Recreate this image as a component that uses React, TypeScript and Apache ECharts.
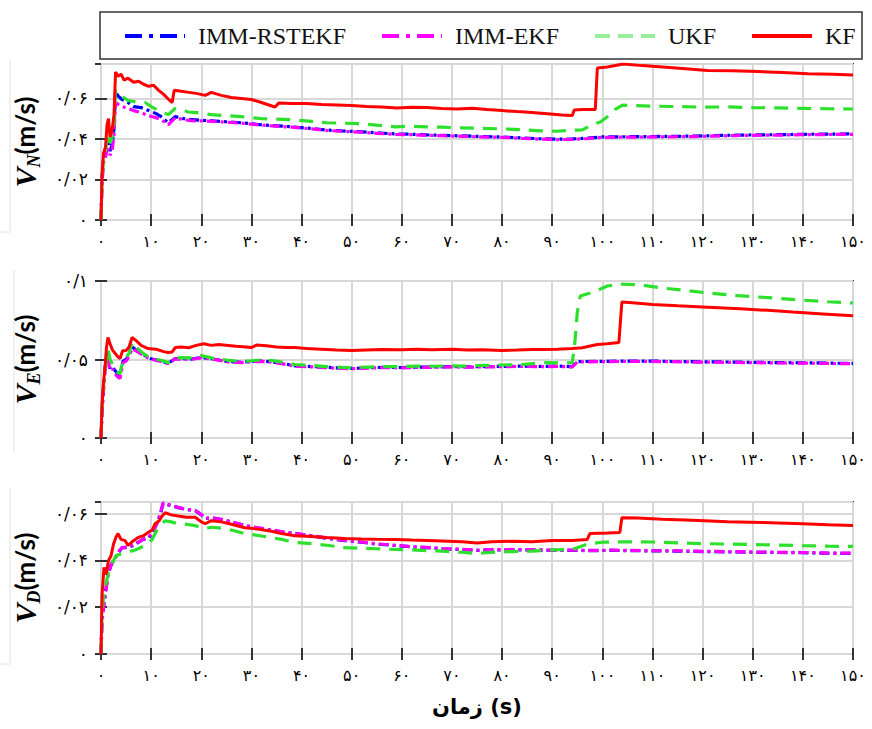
import React, { useEffect, useRef } from "react";
import * as echarts from "echarts";

// ---------- data (t in s, velocity in m/s) ----------
const seriesNames = ["IMM-RSTEKF", "IMM-EKF", "UKF", "KF"];
const xTicks = [0, 150, 10];

// Panel 1: V_N
const vnRST = [[0,0],[0.2,0.02],[0.5,0.03],[0.9,0.033],[1.2,0.036],[1.5,0.038],[1.8,0.034],[2.2,0.037],[2.6,0.045],[2.9,0.063],[3.5,0.061],[4.2,0.0595],[5.4,0.058],[6.5,0.056],[8,0.0555],[9.5,0.054],[11,0.0525],[12,0.051],[13.4,0.048],[14.8,0.051],[16.5,0.05],[18,0.0495],[20,0.0492],[22,0.049],[25,0.0485],[28,0.048],[32,0.047],[35,0.0465],[38,0.046],[42,0.0452],[45,0.0444],[48,0.044],[52,0.0435],[55,0.043],[58.7,0.0425],[62,0.0423],[65,0.042],[68,0.0418],[72,0.0415],[76,0.0412],[80,0.041],[84,0.0405],[87.6,0.0401],[91,0.0399],[94,0.04],[97,0.0404],[100,0.041],[105,0.0411],[110,0.0412],[115,0.0413],[120,0.0415],[125,0.0418],[130,0.042],[135,0.0421],[140,0.0423],[145,0.0424],[150,0.0425]];
const vnEKF = [[0,0],[0.2,0.018],[0.5,0.028],[0.9,0.031],[1.2,0.034],[1.5,0.035],[1.8,0.032],[2.2,0.034],[2.6,0.042],[2.9,0.058],[3.5,0.057],[4.2,0.056],[5.4,0.055],[6.5,0.054],[8,0.053],[9.5,0.0515],[11,0.0505],[12,0.0495],[13.4,0.047],[14.8,0.0505],[16.5,0.0495],[18,0.049],[20,0.0489],[22,0.0487],[25,0.0483],[28,0.0478],[32,0.0468],[35,0.0463],[38,0.0458],[42,0.045],[45,0.0442],[48,0.0438],[52,0.0433],[55,0.0428],[58.7,0.0423],[62,0.0421],[65,0.0418],[68,0.0416],[72,0.0413],[76,0.041],[80,0.0408],[84,0.0403],[87.6,0.0399],[91,0.0397],[94,0.0398],[97,0.0402],[100,0.0408],[105,0.0409],[110,0.041],[115,0.0411],[120,0.0413],[125,0.0416],[130,0.0418],[135,0.0419],[140,0.0421],[145,0.0422],[150,0.0423]];
const vnUKF = [[0,0],[0.2,0.02],[0.5,0.03],[0.9,0.034],[1.2,0.04],[1.5,0.043],[1.8,0.038],[2.2,0.041],[2.6,0.048],[2.9,0.064],[3.5,0.062],[4.2,0.061],[5.4,0.059],[6.5,0.0585],[7.5,0.058],[8.8,0.058],[10,0.056],[11.5,0.054],[13.4,0.052],[14.8,0.055],[16,0.0545],[17.4,0.0533],[19,0.053],[22,0.052],[25,0.0515],[28,0.051],[32,0.05],[35,0.0498],[38,0.0495],[42,0.0487],[45,0.048],[48,0.0478],[52,0.0475],[55,0.0468],[58.7,0.046],[62,0.0463],[65,0.046],[68,0.0458],[72,0.0455],[76,0.0452],[80,0.045],[84,0.0446],[87.6,0.044],[91,0.0438],[94.2,0.0443],[96,0.0445],[98,0.047],[99.6,0.0484],[101,0.051],[102.5,0.0545],[104,0.0567],[106,0.0565],[110,0.0562],[115,0.056],[120,0.0557],[125,0.0558],[130,0.0555],[135,0.0553],[140,0.0551],[145,0.0549],[150,0.0548]];
const vnKF = [[0,0],[0.2,0.022],[0.5,0.033],[0.9,0.036],[1.2,0.047],[1.5,0.05],[1.8,0.041],[2.2,0.044],[2.6,0.052],[2.9,0.073],[3.4,0.071],[4,0.072],[4.6,0.069],[5.4,0.07],[6.5,0.068],[7.5,0.0685],[8.5,0.067],[9.5,0.066],[10.5,0.0665],[11.5,0.064],[12.5,0.062],[13.5,0.0595],[14.2,0.058],[14.6,0.064],[16,0.0635],[17.5,0.063],[19,0.0625],[20.8,0.0615],[22,0.063],[24,0.0615],[26,0.0605],[28,0.06],[30,0.0595],[32,0.058],[34.7,0.0558],[35.5,0.0578],[38,0.0575],[41,0.0575],[44,0.057],[47,0.0568],[50,0.0565],[53,0.056],[56,0.0558],[59,0.0553],[62,0.0556],[65,0.0555],[68,0.055],[71,0.0548],[74,0.0551],[77,0.0545],[80,0.054],[83,0.0535],[86,0.0531],[89,0.0525],[92,0.0518],[94,0.0516],[94.4,0.0543],[96,0.0545],[98.6,0.0546],[99,0.075],[101,0.0755],[104.2,0.077],[108,0.0762],[112,0.0755],[116,0.0748],[121,0.0738],[126,0.0737],[131,0.0733],[136,0.0728],[141,0.0722],[146,0.072],[150,0.0716]];

// Panel 2: V_E
const veRST = [[0,0],[0.2,0.018],[0.5,0.032],[0.8,0.045],[1.2,0.054],[1.5,0.05],[1.8,0.044],[2.3,0.045],[2.8,0.043],[3.3,0.041],[3.8,0.04],[4.4,0.049],[5,0.05],[5.6,0.053],[6.2,0.058],[7,0.056],[8,0.054],[8.8,0.0525],[10,0.0505],[12,0.049],[13.4,0.0475],[14.8,0.0506],[16,0.0505],[18,0.0503],[20,0.0513],[22,0.0505],[25.4,0.0487],[28,0.0482],[30,0.0488],[32,0.049],[35,0.0482],[38.7,0.046],[42,0.0455],[45,0.045],[48,0.0445],[50,0.0443],[53,0.0447],[56,0.045],[60,0.0449],[63,0.0452],[66,0.0452],[70,0.0455],[73,0.0453],[76,0.0455],[80,0.0456],[84,0.0458],[87.6,0.0456],[91,0.0458],[94,0.0455],[95,0.0487],[100,0.0488],[105,0.049],[110,0.049],[113.6,0.0488],[120,0.0485],[125,0.0484],[130,0.0482],[135,0.048],[140,0.0479],[145,0.0477],[150,0.0475]];
const veEKF = [[0,0],[0.2,0.016],[0.5,0.03],[0.8,0.043],[1.2,0.052],[1.5,0.048],[1.8,0.043],[2.3,0.044],[2.8,0.041],[3.3,0.039],[3.8,0.038],[4.4,0.048],[5,0.049],[5.6,0.052],[6.2,0.057],[7,0.0555],[8,0.0535],[8.8,0.052],[10,0.0502],[12,0.0488],[13.4,0.0473],[14.8,0.0504],[16,0.0503],[18,0.0501],[20,0.0511],[22,0.0503],[25.4,0.0485],[28,0.048],[30,0.0486],[32,0.0488],[35,0.048],[38.7,0.0458],[42,0.0453],[45,0.0448],[48,0.0443],[50,0.0441],[53,0.0445],[56,0.0448],[60,0.0447],[63,0.045],[66,0.045],[70,0.0453],[73,0.0451],[76,0.0453],[80,0.0454],[84,0.0456],[87.6,0.0454],[91,0.0456],[94,0.0453],[95,0.0485],[100,0.0486],[105,0.0488],[110,0.0488],[113.6,0.0486],[120,0.0483],[125,0.0482],[130,0.048],[135,0.0478],[140,0.0477],[145,0.0475],[150,0.0473]];
const veUKF = [[0,0],[0.2,0.02],[0.5,0.034],[0.8,0.042],[1.1,0.052],[1.4,0.057],[1.8,0.05],[2.3,0.047],[2.8,0.045],[3.3,0.042],[3.8,0.041],[4.4,0.05],[5,0.051],[5.6,0.054],[6.2,0.061],[7,0.058],[8,0.055],[8.8,0.053],[10,0.051],[12,0.0495],[13.4,0.048],[14.8,0.051],[16,0.0512],[18,0.051],[20,0.0525],[22,0.051],[25.4,0.0495],[28,0.0488],[30,0.0492],[32,0.0498],[35,0.049],[38.7,0.0468],[42,0.0462],[45,0.0455],[48,0.045],[50,0.0447],[53,0.0452],[56,0.0455],[60,0.0455],[63,0.0458],[66,0.0457],[70,0.046],[73,0.0458],[76,0.0462],[80,0.0465],[84,0.0467],[88,0.048],[91,0.0478],[94,0.048],[94.5,0.06],[95,0.08],[95.6,0.0905],[97.6,0.0924],[99,0.094],[101,0.0968],[103.6,0.098],[107.6,0.0975],[112,0.0955],[116,0.0942],[121,0.0924],[127,0.0907],[134,0.0892],[140,0.0878],[145,0.0868],[150,0.086]];
const veKF = [[0,0],[0.2,0.02],[0.5,0.035],[0.8,0.045],[1.1,0.058],[1.4,0.064],[1.8,0.06],[2.3,0.056],[2.8,0.054],[3.3,0.052],[3.8,0.0506],[4.3,0.0555],[5,0.0557],[5.6,0.058],[6.2,0.064],[7,0.062],[8,0.059],[9.4,0.057],[11,0.0565],[12.5,0.055],[13.4,0.0544],[14.2,0.0548],[14.8,0.0576],[16,0.058],[17.5,0.0575],[19,0.059],[20.5,0.06],[22,0.059],[23.5,0.0595],[25.4,0.0589],[27,0.0584],[29,0.058],[30,0.0576],[31,0.0592],[33,0.0588],[35,0.058],[37,0.0577],[38.7,0.0576],[41,0.057],[44,0.0566],[47,0.056],[50,0.0557],[53,0.056],[56,0.0563],[60,0.0562],[63,0.0565],[66,0.0562],[70,0.0565],[73,0.056],[76,0.0562],[80,0.0558],[83,0.056],[86,0.0563],[88,0.0563],[91,0.0565],[94,0.057],[96,0.0575],[99,0.0595],[101,0.06],[103.3,0.0608],[103.9,0.0867],[106,0.0862],[110,0.085],[115,0.0842],[120,0.0835],[127.5,0.0823],[133,0.0813],[138,0.0802],[144,0.079],[150,0.0778]];

// Panel 3: V_D
const vdRST = [[0,0],[0.2,0.015],[0.6,0.022],[1,0.028],[1.4,0.034],[2,0.038],[2.8,0.041],[3.4,0.043],[4.2,0.0455],[5.4,0.0455],[6.5,0.0465],[7.4,0.0477],[8.4,0.049],[9.4,0.0495],[10.2,0.0515],[11.4,0.057],[12,0.061],[12.4,0.0645],[13,0.064],[14,0.0635],[15.4,0.0626],[17,0.0618],[18.8,0.0613],[20,0.0595],[20.8,0.0579],[22,0.0583],[24,0.0575],[26,0.0565],[28.7,0.0549],[31,0.054],[34,0.053],[36,0.0522],[38.7,0.0515],[42,0.0505],[45,0.0495],[48.7,0.0485],[52,0.0478],[55,0.047],[58.7,0.0464],[62,0.0458],[65,0.0455],[68,0.045],[72,0.0447],[75,0.0443],[78,0.0445],[82,0.0446],[86,0.0445],[90,0.0443],[94,0.0443],[98,0.0442],[102,0.0443],[106,0.0442],[110,0.0441],[115,0.044],[120,0.0438],[125,0.0437],[130,0.0435],[135,0.0434],[140,0.0433],[145,0.0431],[150,0.043]];
const vdEKF = [[0,0],[0.2,0.014],[0.6,0.021],[1,0.027],[1.4,0.034],[2,0.038],[2.8,0.041],[3.4,0.0435],[4.2,0.0455],[5.4,0.0458],[6.5,0.0468],[7.4,0.0477],[8.4,0.049],[9.4,0.05],[10.2,0.0515],[11.4,0.057],[12,0.0615],[12.4,0.0647],[13,0.0642],[14,0.0636],[15.4,0.0627],[17,0.0619],[18.8,0.0614],[20,0.0596],[20.8,0.058],[22,0.0584],[24,0.0576],[26,0.0566],[28.7,0.055],[31,0.0541],[34,0.0531],[36,0.0523],[38.7,0.0516],[42,0.0506],[45,0.0496],[48.7,0.0486],[52,0.0479],[55,0.0471],[58.7,0.0465],[62,0.0459],[65,0.0456],[68,0.0451],[72,0.0448],[75,0.0444],[78,0.0446],[82,0.0447],[86,0.0446],[90,0.0444],[94,0.0444],[98,0.0443],[102,0.0444],[106,0.0443],[110,0.0442],[115,0.0441],[120,0.0439],[125,0.0438],[130,0.0436],[135,0.0435],[140,0.0434],[145,0.0432],[150,0.0431]];
const vdUKF = [[0,0],[0.2,0.018],[0.6,0.026],[1,0.03],[1.5,0.035],[2,0.037],[2.5,0.04],[3,0.042],[4.2,0.043],[5.4,0.0438],[6.5,0.0442],[7.4,0.045],[8.4,0.046],[9.4,0.047],[10.2,0.049],[11.4,0.054],[12.8,0.057],[14,0.0565],[15.4,0.0557],[17,0.0555],[18.8,0.0549],[20,0.054],[20.8,0.0536],[22,0.0542],[24,0.0538],[26,0.053],[28.7,0.0515],[31,0.0508],[34,0.0498],[36,0.049],[38.7,0.0477],[42,0.0472],[45,0.0465],[48.7,0.0455],[52,0.0452],[55,0.045],[58.7,0.0447],[62,0.0445],[65,0.0442],[68,0.044],[72,0.0435],[75,0.043],[78,0.0435],[82,0.0438],[86,0.044],[90,0.0445],[94,0.0447],[97,0.047],[100,0.0478],[105,0.048],[110,0.0479],[115,0.0475],[120,0.0472],[125,0.047],[130,0.0468],[135,0.0466],[140,0.0463],[145,0.0461],[150,0.046]];
const vdKF = [[0,0],[0.2,0.025],[0.6,0.037],[1,0.034],[1.5,0.04],[2,0.042],[2.5,0.047],[3,0.05],[3.4,0.0515],[4,0.049],[4.8,0.0485],[5.4,0.0464],[6.2,0.048],[7.4,0.0498],[8.4,0.0505],[9.4,0.052],[10.2,0.053],[10.8,0.0557],[11.6,0.057],[12.2,0.059],[12.8,0.0604],[14,0.0595],[15.4,0.059],[17,0.0585],[18.8,0.0585],[20,0.0565],[20.8,0.0557],[22,0.057],[24,0.0565],[26,0.0555],[28.7,0.054],[31,0.0535],[34,0.0525],[36,0.0515],[38.7,0.0506],[42,0.0502],[45,0.0498],[48.7,0.0494],[52,0.0492],[55,0.0491],[58.7,0.049],[62,0.0487],[65,0.0485],[68,0.0483],[72,0.048],[75,0.0475],[78,0.048],[82,0.0482],[86,0.048],[90,0.0485],[94,0.0485],[97,0.049],[97.5,0.0515],[101,0.0517],[103.5,0.052],[103.9,0.0583],[107,0.0582],[112,0.0576],[118,0.0572],[125,0.0566],[132,0.0562],[140,0.0557],[145,0.0553],[150,0.055]];

// y-axis ranges [min, max, interval] per panel
const yRanges = [[0, 0.077, 0.02], [0, 0.1, 0.05], [0, 0.065, 0.02]];
const ySubs = ["N", "E", "D"];
const xTitle = "زمان (s)";

const panels = [
  [vnRST, vnEKF, vnUKF, vnKF],
  [veRST, veEKF, veUKF, veKF],
  [vdRST, vdEKF, vdUKF, vdKF],
];

const grids = [
  { left: 101, top: 64, width: 752, height: 156 },
  { left: 101, top: 281, width: 752, height: 157 },
  { left: 101, top: 502, width: 752, height: 152 },
];

const colors = ["#0000ff", "#ff00ff", "#2ee02e", "#ff0000"];
const lineTypes: any[] = [[10, 4, 3, 4], [10, 4, 3, 4], [14, 9], "solid"];
const legendTypes: any[] = [[17, 7, 4, 7], [17, 7, 4, 7], [15, 8], "solid"];
const legendColors = ["#0000ff", "#ff00ff", "#99ee99", "#ff0000"];

const FA = "۰۱۲۳۴۵۶۷۸۹";
const toFa = (s: string) => s.replace(/[0-9]/g, (d) => FA[+d]).replace(".", "/");
const yFmt = (v: number) => (v === 0 ? "۰" : toFa(String(parseFloat(v.toFixed(3)))));
const xFmt = (v: number) => toFa(String(Math.round(v)));

const LABEL_FONT = "'DejaVu Sans', sans-serif";

function buildOption() {
  const xAxis: any[] = [];
  const yAxis: any[] = [];
  const series: any[] = [];
  const tickStyle = { inside: true, length: 6, lineStyle: { color: "#333", width: 2 } };
  grids.forEach((_, gi) => {
    const [ymin, ymax, yint] = yRanges[gi];
    xAxis.push({
      type: "value", gridIndex: gi, min: xTicks[0], max: xTicks[1], interval: xTicks[2],
      axisLine: { show: false }, axisTick: tickStyle,
      axisLabel: { formatter: xFmt, fontFamily: LABEL_FONT, fontSize: 16, color: "#000", margin: 13 },
      splitLine: { show: true, lineStyle: { color: "#d8d8d8", width: 2 } },
      ...(gi === 2
        ? {
            name: xTitle, nameLocation: "middle", nameGap: 42,
            nameTextStyle: { fontFamily: LABEL_FONT, fontWeight: "bold", fontSize: 21, color: "#000" },
          }
        : {}),
    });
    xAxis.push({
      type: "value", gridIndex: gi, position: "top", min: xTicks[0], max: xTicks[1], interval: xTicks[2],
      axisLine: { show: false }, axisTick: tickStyle, axisLabel: { show: false }, splitLine: { show: false },
    });
    yAxis.push({
      type: "value", gridIndex: gi, min: ymin, max: ymax, interval: yint,
      axisLine: { show: false }, axisTick: tickStyle,
      axisLabel: { formatter: yFmt, fontFamily: LABEL_FONT, fontSize: 17, color: "#000", margin: 13, showMaxLabel: ymax === 0.1 },
      splitLine: { show: true, lineStyle: { color: "#d8d8d8", width: 2 } },
      name: `{v|V}{s|${ySubs[gi]}}{u|(m/s)}`,
      nameLocation: "middle", nameRotate: 90, nameGap: 58,
      nameTextStyle: {
        color: "#000",
        rich: {
          v: { fontFamily: "'Liberation Serif', serif", fontWeight: "bold", fontStyle: "italic", fontSize: 30, color: "#000" },
          s: { fontFamily: "'Liberation Serif', serif", fontWeight: "bold", fontStyle: "italic", fontSize: 18, color: "#000", padding: [18, 0, 0, 0], verticalAlign: "bottom" },
          u: { fontFamily: "Lato, 'Open Sans', sans-serif", fontWeight: "bold", fontSize: 26, color: "#000" },
        },
      },
    });
    yAxis.push({
      type: "value", gridIndex: gi, position: "right", min: ymin, max: ymax, interval: yint,
      axisLine: { show: false }, axisTick: tickStyle, axisLabel: { show: false }, splitLine: { show: false },
    });
    panels[gi].forEach((data, si) => {
      series.push({
        type: "line", name: seriesNames[si], data,
        xAxisIndex: gi * 2, yAxisIndex: gi * 2,
        symbol: "none", showSymbol: false, smooth: false,
        lineStyle: { color: colors[si], width: si === 3 ? 3 : 3.2, type: lineTypes[si] },
        itemStyle: { color: colors[si] },
        z: 2 + si,
      });
    });
  });

  const frameLines = [
    [10, 60, 10, 232], [0, 232, 10, 232],
    [14, 270, 14, 452],
    [10, 488, 10, 664], [0, 664, 10, 664],
  ];

  return {
    animation: false,
    backgroundColor: "#ffffff",
    grid: grids.map((g) => ({ ...g, show: true, borderColor: "#333", borderWidth: 2, backgroundColor: "transparent" })),
    xAxis, yAxis, series,
    legend: {
      left: 123, top: 24, padding: 0, itemWidth: 60, itemHeight: 14, itemGap: 34,
      textStyle: { fontFamily: "'Liberation Serif', serif", fontSize: 24, color: "#111", padding: [0, 0, 0, 8] },
      data: seriesNames.map((n, i) => ({
        name: n,
        lineStyle: { color: legendColors[i], width: 4, type: legendTypes[i] },
        itemStyle: { opacity: 0, color: "rgba(0,0,0,0)", borderWidth: 0 },
      })),
    },
    graphic: [
      { type: "rect", shape: { x: 100, y: 12, width: 762, height: 47 }, style: { fill: "none", stroke: "#333", lineWidth: 1.5 }, silent: true },
      ...frameLines.map(([x1, y1, x2, y2]) => ({
        type: "line", shape: { x1, y1, x2, y2 }, style: { stroke: "#e2e2e2", lineWidth: 1 }, silent: true,
      })),
    ],
  };
}

export default function App() {
  const ref = useRef<HTMLDivElement>(null);
  useEffect(() => {
    if (!ref.current) return;
    const chart = echarts.init(ref.current, undefined, { renderer: "svg" });
    chart.setOption(buildOption() as any);
    return () => chart.dispose();
  }, []);
  return (
    <div
      ref={ref}
      style={{ position: "absolute", left: 0, top: 0, width: 872, height: 729, background: "#fff" }}
    />
  );
}
